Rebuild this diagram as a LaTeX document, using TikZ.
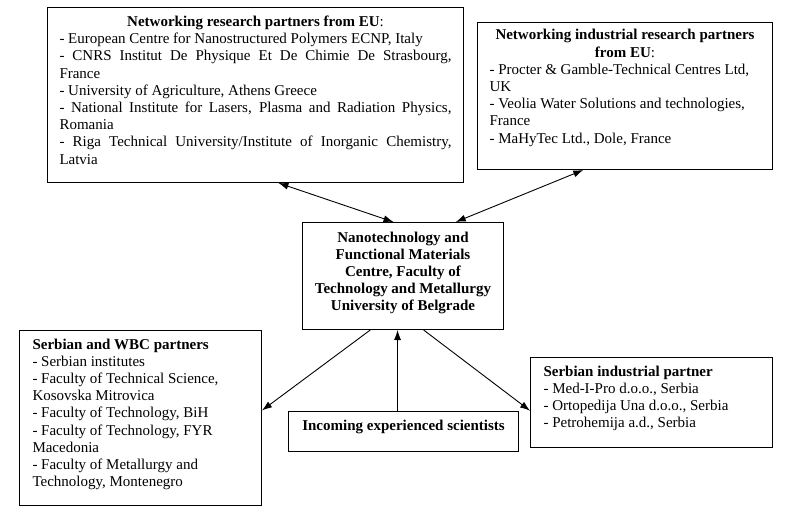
\documentclass[tikz,border=0pt]{standalone}
\usepackage{fontspec}
\setmainfont{Liberation Serif}
\usetikzlibrary{calc,arrows.meta}
\newcommand\myfs{\fontsize{15}{17.2}\selectfont}
\newcommand\mystrut{\rule{0pt}{12pt}}
\tikzset{
  box/.style={draw, line width=1pt, anchor=north west, font=\myfs},
  arr/.style={line width=0.9pt, -{Latex[length=10pt,width=7pt]}},
  arrb/.style={line width=0.9pt, {Latex[length=10pt,width=7pt]}-{Latex[length=10pt,width=7pt]}}
}
\begin{document}
\begin{tikzpicture}[x=1pt,y=-1pt]
\useasboundingbox (0,0) rectangle (791,526);
% top-left box
\node[box, inner xsep=12pt, inner ysep=7pt] (eu) at (47,7) {%
\begin{minipage}[t][161pt][t]{392pt}\myfs\parindent0pt\parskip0pt
\mystrut\hfill\textbf{Networking research partners from EU}:\hfill\null\par
- European Centre for Nanostructured Polymers ECNP, Italy\par
\makebox[\linewidth][s]{- CNRS Institut De Physique Et De Chimie De Strasbourg,}\par
France\par
- University of Agriculture, Athens Greece\par
\makebox[\linewidth][s]{- National Institute for Lasers, Plasma and Radiation Physics,}\par
Romania\par
\makebox[\linewidth][s]{- Riga Technical University/Institute of Inorganic Chemistry,}\par
Latvia\par
\end{minipage}};
% top-right box
\node[box, inner xsep=12pt, inner ysep=5.5pt] (ind) at (477,22) {%
\begin{minipage}[t][136pt][t]{271pt}\myfs\parindent0pt\parskip0pt
{\centering\mystrut\textbf{Networking industrial research partners}\\
\textbf{from EU}:\par}
- Procter \& Gamble-Technical Centres Ltd,\par
UK\par
- Veolia Water Solutions and technologies,\par
France\par
- MaHyTec Ltd., Dole, France\par
\end{minipage}};
% centre box
\node[box, inner xsep=8pt, inner ysep=7.6pt] (fmc) at (302,222) {%
\begin{minipage}[t][91.8pt][t]{185pt}\myfs\centering\bfseries
\mystrut Nanotechnology and\\
Functional Materials\\
Centre, Faculty of\\
Technology and Metallurgy\\
University of Belgrade
\end{minipage}};
% bottom-left box
\node[box, inner xsep=13pt, inner ysep=6.5pt] (wbc) at (19,330) {%
\begin{minipage}[t][162pt][t]{216pt}\myfs\parindent0pt\parskip0pt
\mystrut\textbf{Serbian and WBC partners}\par
- Serbian institutes\par
- Faculty of Technical Science,\par
Kosovska Mitrovica\par
- Faculty of Technology, BiH\par
- Faculty of Technology, FYR\par
Macedonia\par
- Faculty of Metallurgy and\par
Technology, Montenegro\par
\end{minipage}};
% incoming box
\node[box, inner xsep=8pt, inner ysep=6.5pt] (inc) at (288,411) {%
\begin{minipage}[t][27pt][t]{214pt}\myfs\centering
\mystrut\textbf{Incoming experienced scientists}
\end{minipage}};
% bottom-right box
\node[box, inner xsep=13pt, inner ysep=6.8pt] (sip) at (530,357) {%
\begin{minipage}[t][76.4pt][t]{216pt}\myfs\parindent0pt\parskip0pt
\mystrut\textbf{Serbian industrial partner}\par
- Med-I-Pro d.o.o., Serbia\par
- Ortopedija Una d.o.o., Serbia\par
- Petrohemija a.d., Serbia\par
\end{minipage}};
% connectors
\draw[arrb] ($(eu.south west)!0.555!(eu.south east)$) -- ($(fmc.north west)!0.453!(fmc.north east)$);
\draw[arrb] ($(ind.south west)!0.359!(ind.south east)$) -- ($(fmc.north west)!0.761!(fmc.north east)$);
\draw[arr] ($(fmc.south west)!0.338!(fmc.south east)$) -- ($(wbc.north east)!0.457!(wbc.south east)$);
\draw[arr] ($(inc.north west)!0.474!(inc.north east)$) -- ($(fmc.south west)!0.473!(fmc.south east)$);
\draw[arr] ($(fmc.south west)!0.602!(fmc.south east)$) -- ($(sip.north west)!0.59!(sip.south west)$);
\end{tikzpicture}
\end{document}
